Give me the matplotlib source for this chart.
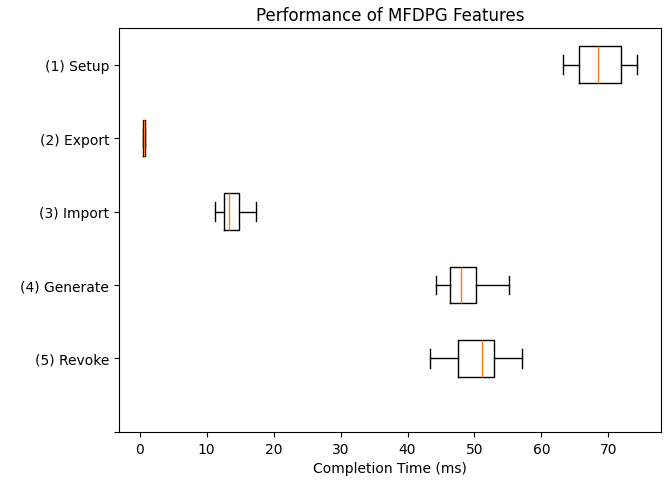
import matplotlib
matplotlib.use("Agg")
import matplotlib.pyplot as plt

# five-number summaries (ms)
labels = ["(1) Setup", "(2) Export", "(3) Import", "(4) Generate", "(5) Revoke"]
whislo = [63.2, 0.45, 11.3, 44.2, 43.3]
q1 = [65.6, 0.55, 12.6, 46.3, 47.5]
med = [68.4, 0.65, 13.4, 48.0, 51.1]
q3 = [71.9, 0.75, 14.8, 50.2, 52.9]
whishi = [74.3, 0.85, 17.3, 55.2, 57.1]

stats = []
for i in range(len(labels)):
    stats.append({"label": labels[i], "whislo": whislo[i], "q1": q1[i],
                  "med": med[i], "q3": q3[i], "whishi": whishi[i], "fliers": []})

fig, ax = plt.subplots(figsize=(6.68, 4.81), dpi=100)
fig.subplots_adjust(left=0.178, right=0.989, top=0.940, bottom=0.100)

# setup at top, empty slot at the bottom
positions = list(range(len(labels), 0, -1))
ax.bxp(stats, positions=positions, vert=False, widths=0.5, showfliers=False)

ax.set_yticks(range(0, len(labels) + 1))
ax.set_yticklabels([""] + labels[::-1])
ax.set_ylim(0, len(labels) + 0.5)
ax.set_xlim(-3.1, 77.8)

ax.set_xlabel("Completion Time (ms)")
ax.set_title("Performance of MFDPG Features")

fig.savefig("out.png", dpi=100)
